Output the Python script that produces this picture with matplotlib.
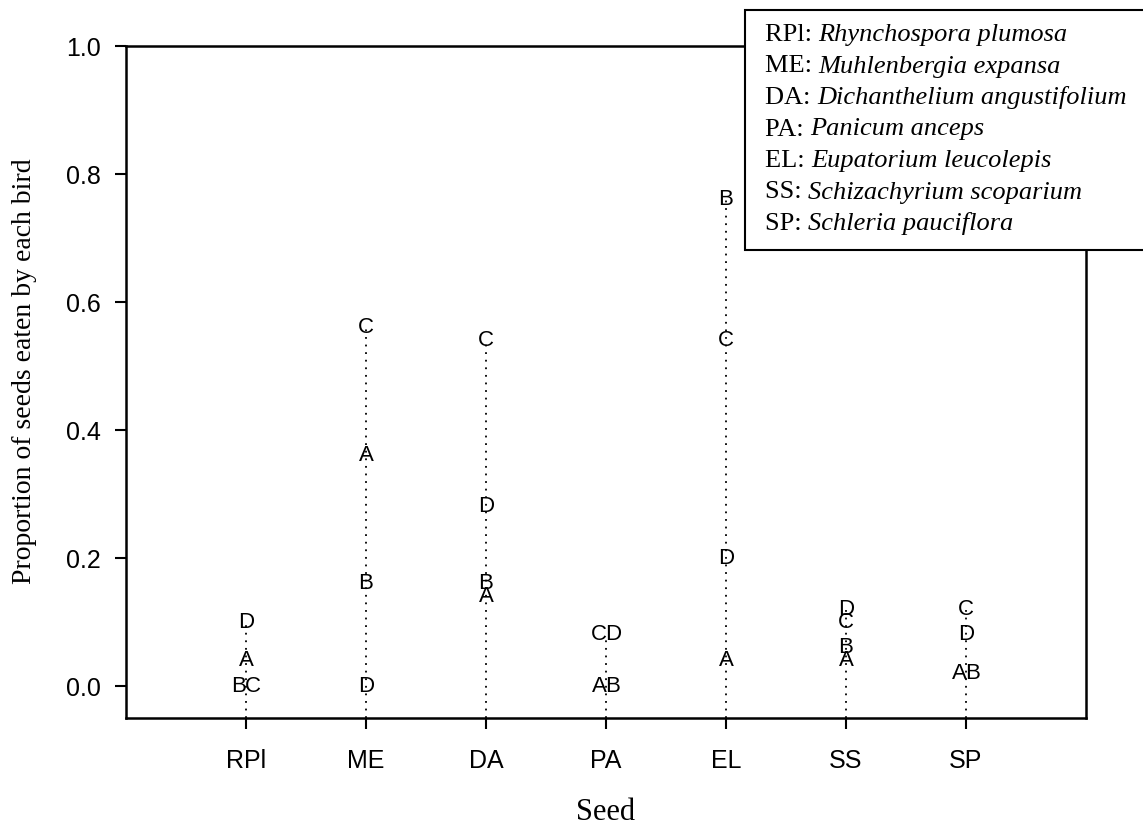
import matplotlib
matplotlib.use("Agg")
import matplotlib.pyplot as plt
from matplotlib.patches import Rectangle
from matplotlib.text import Annotation

seeds = ["RPl", "ME", "DA", "PA", "EL", "SS", "SP"]
species = ["Rhynchospora plumosa", "Muhlenbergia expansa", "Dichanthelium angustifolium",
           "Panicum anceps", "Eupatorium leucolepis", "Schizachyrium scoparium",
           "Schleria pauciflora"]
birds = ["A", "B", "C", "D"]
bird_A = [0.04, 0.36, 0.14, 0.00, 0.04, 0.04, 0.02]
bird_B = [0.00, 0.16, 0.16, 0.00, 0.76, 0.06, 0.02]
bird_C = [0.00, 0.56, 0.54, 0.08, 0.54, 0.10, 0.12]
bird_D = [0.10, 0.00, 0.28, 0.08, 0.20, 0.12, 0.08]
values = {"A": bird_A, "B": bird_B, "C": bird_C, "D": bird_D}

fig = plt.figure(figsize=(11.43, 8.27), dpi=100)
ax = fig.add_axes([126/1143, 1-718/827, (1086-126)/1143, (718-46)/827])

xs = list(range(1, len(seeds) + 1))
ymin = -0.05
for i, x in enumerate(xs):
    top = max(values[b][i] for b in birds)
    ax.plot([x, x], [ymin, top], color="black", lw=1.3, linestyle=(0, (1.0, 3.2)), zorder=1)
    groups = {}
    for b in birds:
        groups.setdefault(values[b][i], []).append(b)
    for v, bs in groups.items():
        n = len(bs)
        for k, b in enumerate(bs):
            off = (k - (n - 1) / 2) * 10
            ax.annotate(b, xy=(x, v), xytext=(off, 0), textcoords="offset points",
                        ha="center", va="center", fontsize=16,
                        family="Liberation Sans", zorder=3)

ax.set_xlim(0, 8)
ax.set_ylim(ymin, 1.0)
ax.set_xticks(xs)
ax.set_xticklabels(seeds, family="Liberation Sans", fontsize=18)
ax.set_yticks([0.0, 0.2, 0.4, 0.6, 0.8, 1.0])
ax.set_yticklabels(["0.0", "0.2", "0.4", "0.6", "0.8", "1.0"], family="Liberation Sans", fontsize=18)
ax.tick_params(axis="both", direction="out", length=8, width=1.5)
ax.tick_params(axis="x", pad=14)
ax.tick_params(axis="y", pad=10)
for s in ax.spines.values():
    s.set_linewidth(1.8)

ax.set_xlabel("Seed", family="Liberation Serif", fontsize=22, labelpad=18)
ax.set_ylabel("Proportion of seeds eaten by each bird", family="Liberation Serif", fontsize=20)
ax.yaxis.set_label_coords(-0.093, 0.516)

# legend box
rect = Rectangle((745/1143, 1-250/827), 0.5, (250-10)/827, transform=fig.transFigure,
                 facecolor="white", edgecolor="black", lw=1.5, zorder=10)
fig.patches.append(rect)
y0 = 35
for j, (ab, sp) in enumerate(zip(seeds, species)):
    yy = 1 - (y0 + j * 31.5) / 827
    t1 = fig.text(765/1143, yy, ab + ": ", family="Liberation Serif", fontsize=19,
                  ha="left", va="center", zorder=11)
    fig.add_artist(Annotation(sp, xy=(1, 0), xycoords=t1, xytext=(0, 0),
                   textcoords="offset points", ha="left", va="bottom",
                   family="Liberation Serif", style="italic", fontsize=19, zorder=11))

fig.savefig("out.png", dpi=100)
